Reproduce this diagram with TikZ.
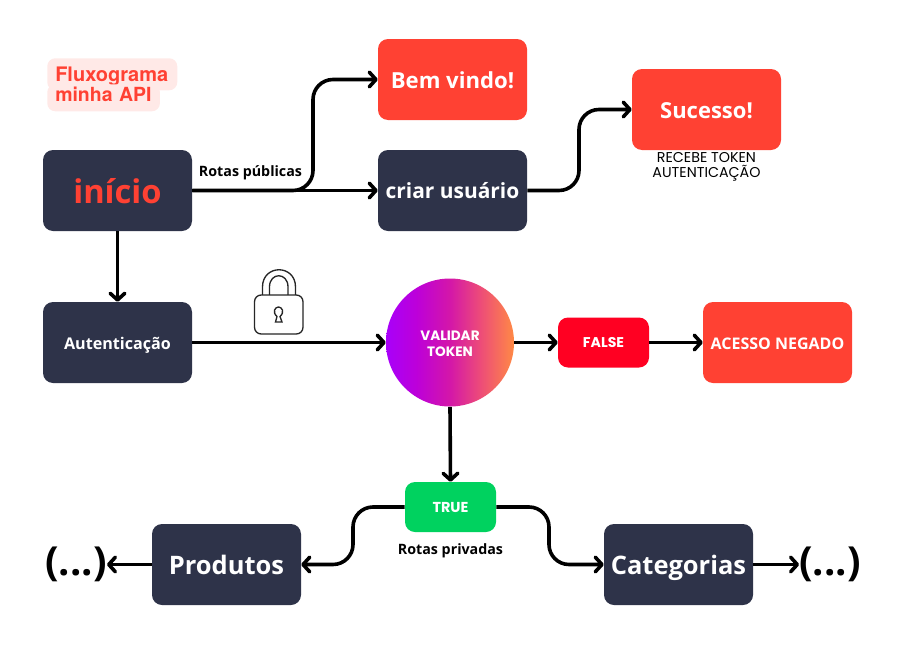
\documentclass[tikz,border=0pt]{standalone}
\usepackage{fontspec}
\setmainfont{Open Sans}
\newfontfamily\popfont{Poppins}
\newfontfamily\titlefont{TeX Gyre Heros}
\usetikzlibrary{arrows.meta}
\definecolor{azul}{HTML}{2E3349}
\definecolor{coral}{HTML}{FF4133}
\definecolor{rosado}{HTML}{FFE9E7}
\definecolor{verde}{HTML}{00D25F}
\definecolor{vermelho}{HTML}{FF0022}
\pgfdeclarehorizontalshading{validarcor}{100bp}{
  rgb(0bp)=(0.66,0,0.98);
  rgb(25bp)=(0.66,0,0.98);
  rgb(37bp)=(0.74,0,0.85);
  rgb(50bp)=(0.83,0.09,0.66);
  rgb(62bp)=(0.93,0.30,0.47);
  rgb(75bp)=(1,0.54,0.27);
  rgb(100bp)=(1,0.54,0.27)}
\tikzset{
  corpo/.style={font=\bfseries\fontsize{#1}{#1}\selectfont, text height={0.714*#1pt+1.5pt}, text depth=0pt},
  caixa/.style={rounded corners=7.5pt, text=white, align=center, inner sep=0pt, minimum width=111.75pt, minimum height=60.75pt},
  caixaazul/.style={caixa, fill=azul},
  caixacoral/.style={caixa, fill=coral},
  caixapeq/.style={rounded corners=7.5pt, text=white, inner sep=0pt, minimum width=68.25pt, minimum height=37.5pt, font=\popfont\bfseries\fontsize{#1}{#1}\selectfont, text height={0.7*#1pt}, text depth=0pt},
  titulo/.style={fill=rosado, rounded corners=6pt, text=coral, anchor=north west, inner ysep=0pt, inner xsep=6pt, align=left, font=\titlefont\bfseries\fontsize{#1}{17}\selectfont},
  fluxo/.style={line width=2.7pt, -{Straight Barb[length=5pt,width=11pt,round]}},
  curva/.style={fluxo, rounded corners=15pt},
  rotulo/.style={font=\bfseries\fontsize{10.7}{12}\selectfont, text=black, inner sep=0pt},
  reticencias/.style={inner sep=0pt, font=\bfseries\fontsize{30}{32}\selectfont, text height=24pt, text depth=7.6pt},
  cadeado/.style={line width=1pt, draw=black!85, fill=white}
}
\begin{document}
\begin{tikzpicture}[x=0.75pt,y=0.75pt,yscale=-1,xscale=1]
	\useasboundingbox (0,0) rectangle (897,657);
	% Title
	\node [titulo=15, text width=85.5pt, minimum height=24pt, text height=10.5pt, text depth=0pt] (tituloA) at (47,58) {Fluxograma};
	\node [titulo=14.6, text width=72.5pt, minimum height=20.25pt, text height=10.5pt, text depth=4.2pt] (tituloB) at (47,84) {\mbox{minha API}};
	% Top row
	\node [caixaazul, corpo=24.5, text=coral] (inicio) at (117.5,190.5) {início};
	\node [caixacoral, corpo=16.6] (bemvindo) at (452.5,79.5) {Bem vindo!};
	\node [caixaazul, corpo=15.7] (criar) at (452.5,190.5) {criar usuário};
	\node [caixacoral, corpo=16.5] (sucesso) at (706.5,109.5) {Sucesso!};
	\node [inner sep=0pt, align=center, font=\popfont\fontsize{10.7}{11}\selectfont] (recebe) at (706.5,167) {RECEBE TOKEN\\AUTENTICAÇÃO};
	\node [rotulo] (publicas) at (250.5,172.5) {Rotas públicas};
	% Middle row
	\node [caixaazul, corpo=12.1] (autent) at (117.5,342.5) {Autenticação};
	\node [circle, minimum size=96pt, inner sep=0pt, shading=validarcor, text=white, align=center, font=\popfont\bfseries\fontsize{10.2}{12.5}\selectfont, text height=21.5pt] (validar) at (450,342.5) {VALIDAR\\TOKEN};
	\node [caixapeq=10.6, fill=vermelho] (false) at (603.5,342.5) {FALSE};
	\node [caixacoral, corpo=12] (negado) at (777.5,342.5) {ACESSO NEGADO};
	% Bottom row
	\node [caixapeq=10.8, fill=verde] (true) at (450.5,507) {TRUE};
	\node [rotulo] (privadas) at (450.5,551) {Rotas privadas};
	\node [caixaazul, corpo=19.1] (produtos) at (226.5,564.5) {Produtos};
	\node [caixaazul, corpo=19.1] (categorias) at (678.5,564.5) {Categorias};
	\node [reticencias] (reticE) at (76,564.5) {(...)};
	\node [reticencias] (reticD) at (830,564.5) {(...)};
	% Bend points
	\coordinate (dobraA) at (313,135);
	\coordinate (dobraB) at (579,150);
	\coordinate (dobraC) at (353,535);
	\coordinate (dobraD) at (549,535);
	% Connectors
	\draw [curva] (inicio.east) -- (dobraA |- inicio.east) -- (dobraA |- bemvindo.west) -- (bemvindo.west);
	\draw [fluxo] (inicio.east) -- (criar.west);
	\draw [curva] (criar.east) -- (dobraB |- criar.east) -- (dobraB |- sucesso.west) -- (sucesso.west);
	\draw [fluxo] (inicio.south) -- (autent.north);
	\draw [fluxo] (autent.east) -- (validar.west);
	\draw [fluxo] (validar.east) -- (false.west);
	\draw [fluxo] (false.east) -- (negado.west);
	\draw [fluxo] (validar.south) -- (true.north);
	\draw [curva] (true.west) -- (dobraC |- true.west) -- (dobraC |- produtos.east) -- (produtos.east);
	\draw [curva] (true.east) -- (dobraD |- true.east) -- (dobraD |- categorias.west) -- (categorias.west);
	\draw [fluxo] (produtos.west) -- (reticE.east);
	\draw [fluxo] (categorias.east) -- (reticD.west);
	% Lock
	\draw [line width=1pt, draw=black!85] (262.5,295) -- (262.5,287) .. controls (262.5,264) and (295.5,264) .. (295.5,287) -- (295.5,295);
	\draw [line width=1pt, draw=black!85] (269.5,295) -- (269.5,287) .. controls (269.5,272) and (288,272) .. (288,287) -- (288,295);
	\draw [cadeado, rounded corners=5pt] (254.5,295) rectangle (303,334);
	\draw [cadeado] (275.5,322) -- (277,316.5) .. controls (272,312) and (275,307) .. (278.5,307) .. controls (282,307) and (285,312) .. (280,316.5) -- (282,322) -- cycle;
\end{tikzpicture}
\end{document}
